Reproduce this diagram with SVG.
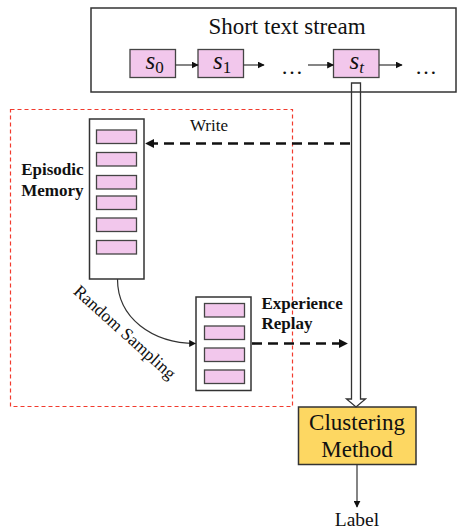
<svg xmlns="http://www.w3.org/2000/svg" width="458" height="529" viewBox="0 0 458 529" font-family="'Liberation Serif', 'Times New Roman', Tinos, serif">
  <style>
    text { font-family: 'Liberation Serif', 'Times New Roman', Tinos, serif; fill: #111; }
    .box { fill: #fff; stroke: #333; stroke-width: 1.5; }
    .cell { fill: #F2C7EC; stroke: #444; stroke-width: 1.3; }
    .thin { fill: none; stroke: #333; stroke-width: 1.2; }
    .dash { fill: none; stroke: #111; stroke-width: 2.6; stroke-dasharray: 10 6; }
    .bold { font-weight: bold; font-size: 17px; }
    .sym { font-size: 25px; font-style: italic; }
    .sub { font-size: 17px; }
  </style>
  <defs>
    <marker id="tri" viewBox="0 0 10 10" refX="9" refY="5" markerWidth="7" markerHeight="7" markerUnits="userSpaceOnUse" orient="auto">
      <path d="M0,0 L10,5 L0,10 Z" fill="#111"/>
    </marker>
    <marker id="triL" viewBox="0 0 10 10" refX="9" refY="5" markerWidth="9" markerHeight="9" markerUnits="userSpaceOnUse" orient="auto">
      <path d="M0,0 L10,5 L0,10 Z" fill="#111"/>
    </marker>
  </defs>

  <!-- memory module boundary -->
  <rect id="memory-module" x="10.5" y="109.5" width="282" height="297" fill="none" stroke="#F23B2E" stroke-width="1.2" stroke-dasharray="4 3"/>

  <!-- stream of incoming texts -->
  <g id="stream">
    <rect class="box" x="91" y="8" width="365" height="84"/>
    <text x="287" y="34" font-size="23" text-anchor="middle">Short text stream</text>
  </g>
  <g id="s0">
    <rect class="cell" x="130" y="49.5" width="45.5" height="28"/>
    <text class="sym" x="145.5" y="69">s<tspan class="sub" font-style="normal" dy="4">0</tspan></text>
  </g>
  <g id="s1">
    <rect class="cell" x="198" y="49.5" width="45.5" height="28"/>
    <text class="sym" x="213" y="69">s<tspan class="sub" font-style="normal" dy="4">1</tspan></text>
  </g>
  <g id="st">
    <rect class="cell" x="333.5" y="49.5" width="45.5" height="28"/>
    <text class="sym" x="349.5" y="69">s<tspan class="sub" dy="4">t</tspan></text>
  </g>
  <text x="292" y="73.5" font-size="22" text-anchor="middle">…</text>
  <text x="426" y="73.5" font-size="22" text-anchor="middle">…</text>

  <!-- episodic memory -->
  <g id="episodic-memory">
    <rect class="box" x="89.5" y="119" width="54.5" height="160"/>
    <rect class="cell" x="96.5" y="130" width="40" height="13.5"/>
    <rect class="cell" x="96.5" y="152.5" width="40" height="13.5"/>
    <rect class="cell" x="96.5" y="175.5" width="40" height="13.5"/>
    <rect class="cell" x="96.5" y="196" width="40" height="13.5"/>
    <rect class="cell" x="96.5" y="218" width="40" height="13.5"/>
    <rect class="cell" x="96.5" y="240.5" width="40" height="13.5"/>
    <text class="bold" x="83.5" y="175" text-anchor="end">Episodic</text>
    <text class="bold" x="83.5" y="196" text-anchor="end">Memory</text>
  </g>

  <!-- experience replay -->
  <g id="experience-replay">
    <rect class="box" x="196" y="297" width="55" height="93.5"/>
    <rect class="cell" x="204.5" y="303.5" width="40" height="13.5"/>
    <rect class="cell" x="204.5" y="326" width="40" height="13.5"/>
    <rect class="cell" x="204.5" y="348" width="40" height="13.5"/>
    <rect class="cell" x="204.5" y="370" width="40" height="13.5"/>
    <text class="bold" x="261.5" y="308.5">Experience</text>
    <text class="bold" x="261.5" y="329">Replay</text>
  </g>

  <!-- clustering -->
  <g id="clustering">
    <rect x="298.5" y="407" width="117.5" height="57.5" fill="#FDD762" stroke="#333" stroke-width="1.5"/>
    <text x="357" y="429.5" font-size="23" text-anchor="middle">Clustering</text>
    <text x="357" y="456.5" font-size="23" text-anchor="middle">Method</text>
  </g>

  <g id="label">
    <text x="357" y="526" font-size="19.5" text-anchor="middle">Label</text>
  </g>

  <!-- connectors -->
  <g id="connectors">
    <line class="thin" x1="175.5" y1="65" x2="198" y2="65" marker-end="url(#tri)"/>
    <line class="thin" x1="243.5" y1="65" x2="264" y2="65" marker-end="url(#tri)"/>
    <line class="thin" x1="308" y1="65" x2="333.5" y2="65" marker-end="url(#tri)"/>
    <line class="thin" x1="379" y1="65" x2="402" y2="65" marker-end="url(#tri)"/>

    <!-- hollow arrow from the current text to clustering -->
    <path d="M351.5,83 L360.5,83 L360.5,399 L365.5,399 L356,407 L346.5,399 L351.5,399 Z" fill="none" stroke="#333" stroke-width="1.3"/>

    <!-- write into memory -->
    <line class="dash" x1="350" y1="143.5" x2="146" y2="143.5" marker-end="url(#triL)"/>
    <text x="209" y="131" font-size="17" text-anchor="middle">Write</text>

    <!-- random sampling -->
    <path d="M117.5,279 C117.5,318 152,343 195.5,343.5" class="thin" stroke="#111" marker-end="url(#tri)"/>
    <text x="121" y="336.5" font-size="17.5" text-anchor="middle" transform="rotate(42 121 336.5)">Random Sampling</text>

    <!-- replay into clustering -->
    <line class="dash" x1="252" y1="343.5" x2="347" y2="343.5" stroke-dasharray="8 5" marker-end="url(#triL)"/>

    <line class="thin" x1="357" y1="464.5" x2="357" y2="507" stroke="#111" marker-end="url(#tri)"/>
  </g>
</svg>
